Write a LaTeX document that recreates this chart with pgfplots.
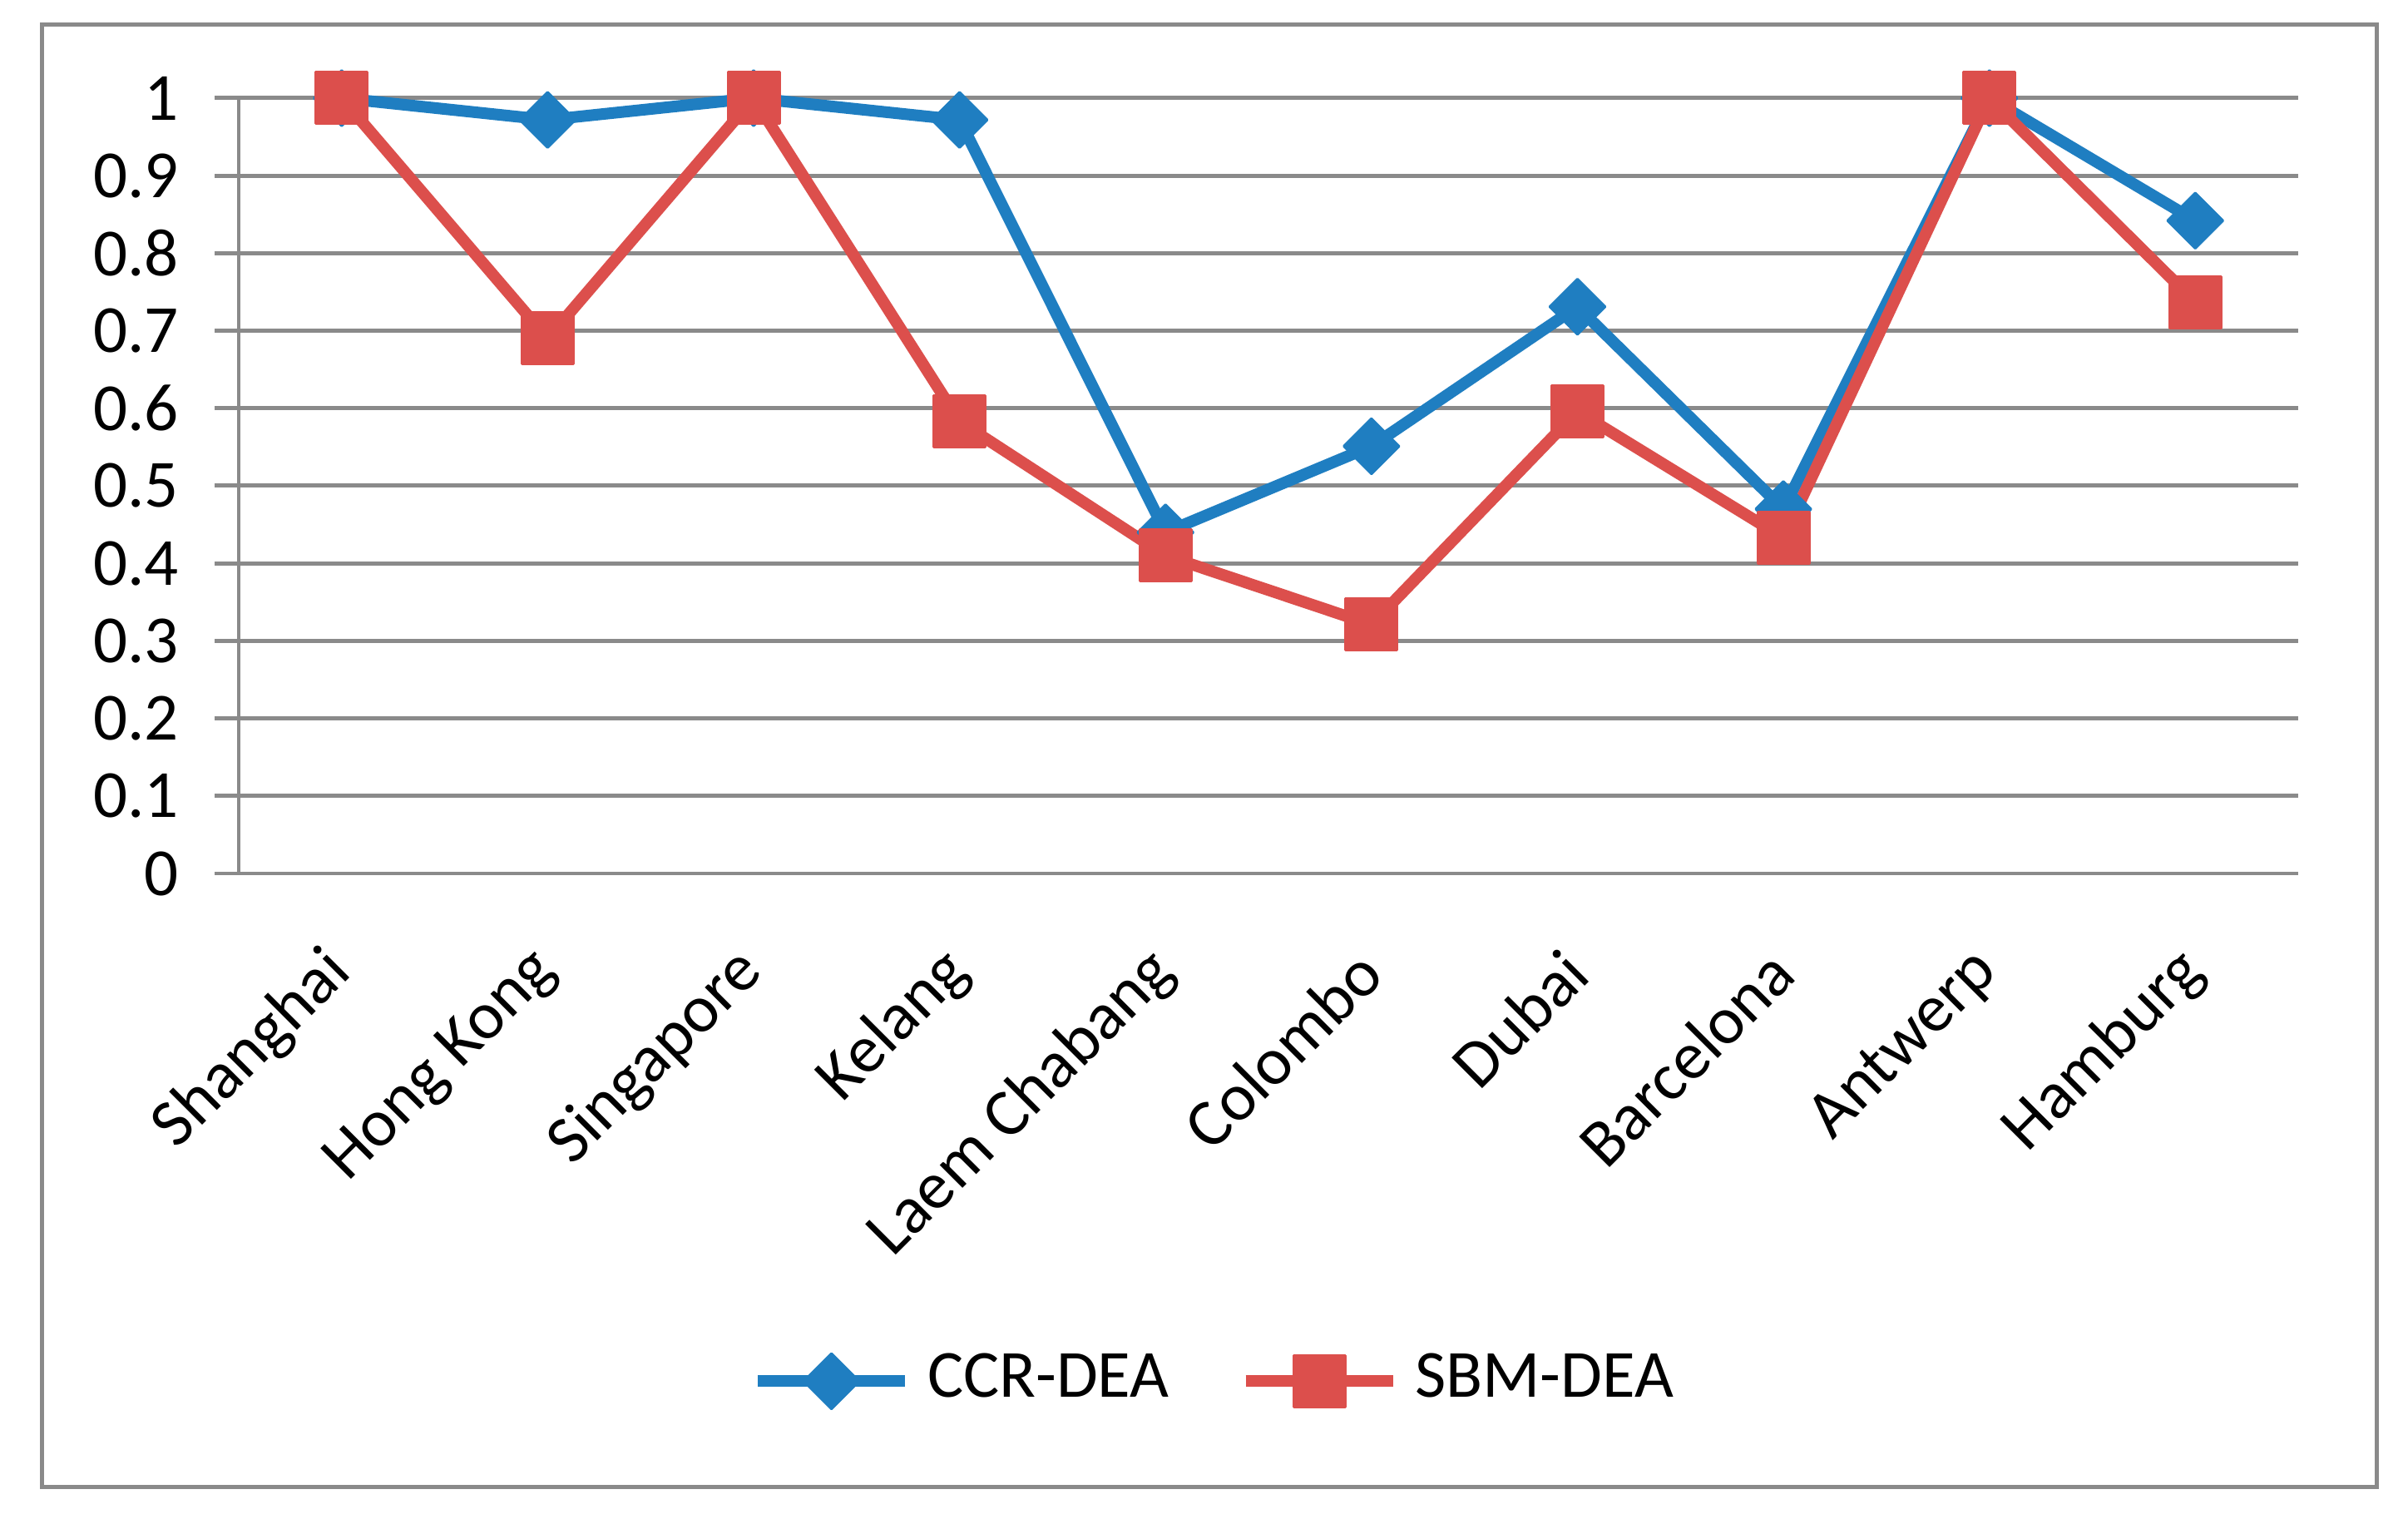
\documentclass[border=0pt]{standalone}
\usepackage{pgfplots}
\pgfplotsset{compat=1.18}
\usepackage{fontspec}
\setmainfont{Carlito}
\definecolor{ccr}{RGB}{31,126,193}
\definecolor{sbm}{RGB}{220,79,76}
\definecolor{gridgray}{RGB}{138,138,138}
\begin{document}
\begin{tikzpicture}
\path[use as bounding box, fill=white] (0,0) rectangle (289.5bp,182.6bp);
\draw[gridgray, line width=0.5bp] (5.05bp,3.8bp) rectangle (285.7bp,179.65bp);
\begin{axis}[
  at={(28.7bp,77.6bp)}, anchor=south west,
  scale only axis, width=247.6bp, height=93.2bp,
  xmin=-0.5, xmax=9.5, ymin=0, ymax=1,
  clip=false,
  axis x line*=bottom, axis y line*=left,
  axis line style={gridgray, line width=0.5bp, -},
  tick align=outside,
  major tick length=2.9bp, minor tick length=2.7bp,
  ytick={0,0.1,0.2,0.3,0.4,0.5,0.6,0.7,0.8,0.9,1},
  yticklabels={0,0.1,0.2,0.3,0.4,0.5,0.6,0.7,0.8,0.9,1},
  ymajorgrids,
  grid style={gridgray, line width=0.5bp},
  ytick style={gridgray, line width=0.5bp},
  xtick={0,1,2,3,4,5,6,7,8,9},
  xticklabels={Shanghai,Hong Kong,Singapore,Kelang,Laem Chabang,Colombo,Dubai,Barcelona,Antwerp,Hamburg},
  xtick style={draw=none},
  minor xtick={-0.5,0.5,1.5,2.5,3.5,4.5,5.5,6.5,7.5,8.5,9.5},
  minor x tick style={gridgray, line width=0.5bp},
  tick label style={font=\fontsize{8.1bp}{9.7bp}\selectfont, black},
  yticklabel style={anchor=east, xshift=-0.8bp},
  xticklabel style={rotate=45, anchor=east, inner sep=0bp},
  xticklabel shift=7.6bp,
  legend style={draw=none, fill=none, at={(0.477,-0.655)}, anchor=center,
    legend columns=2, font=\fontsize{8.1bp}{9.7bp}\selectfont,
    /tikz/every even column/.append style={column sep=6.5bp}},
  legend image code/.code={\draw[mark repeat=2,mark phase=2,#1] plot coordinates {(0bp,0bp) (8.85bp,0bp) (17.7bp,0bp)};},
]
\addplot[ccr, line width=1.4bp, line join=round, mark=square*, mark size=2.35bp,
  mark options={rotate=45, line width=0.3bp, fill=ccr, draw=ccr}]
  coordinates {(0,1) (1,0.972) (2,1) (3,0.972) (4,0.44) (5,0.551) (6,0.731) (7,0.47) (8,1) (9,0.842)};
\addlegendentry{CCR-DEA}
\addplot[sbm, line width=1.4bp, line join=round, mark=square*, mark size=3.1bp,
  mark options={line width=0.3bp, fill=sbm, draw=sbm}]
  coordinates {(0,1) (1,0.69) (2,1) (3,0.583) (4,0.41) (5,0.321) (6,0.596) (7,0.433) (8,1) (9,0.737)};
\addlegendentry{SBM-DEA}
\end{axis}
\end{tikzpicture}
\end{document}
